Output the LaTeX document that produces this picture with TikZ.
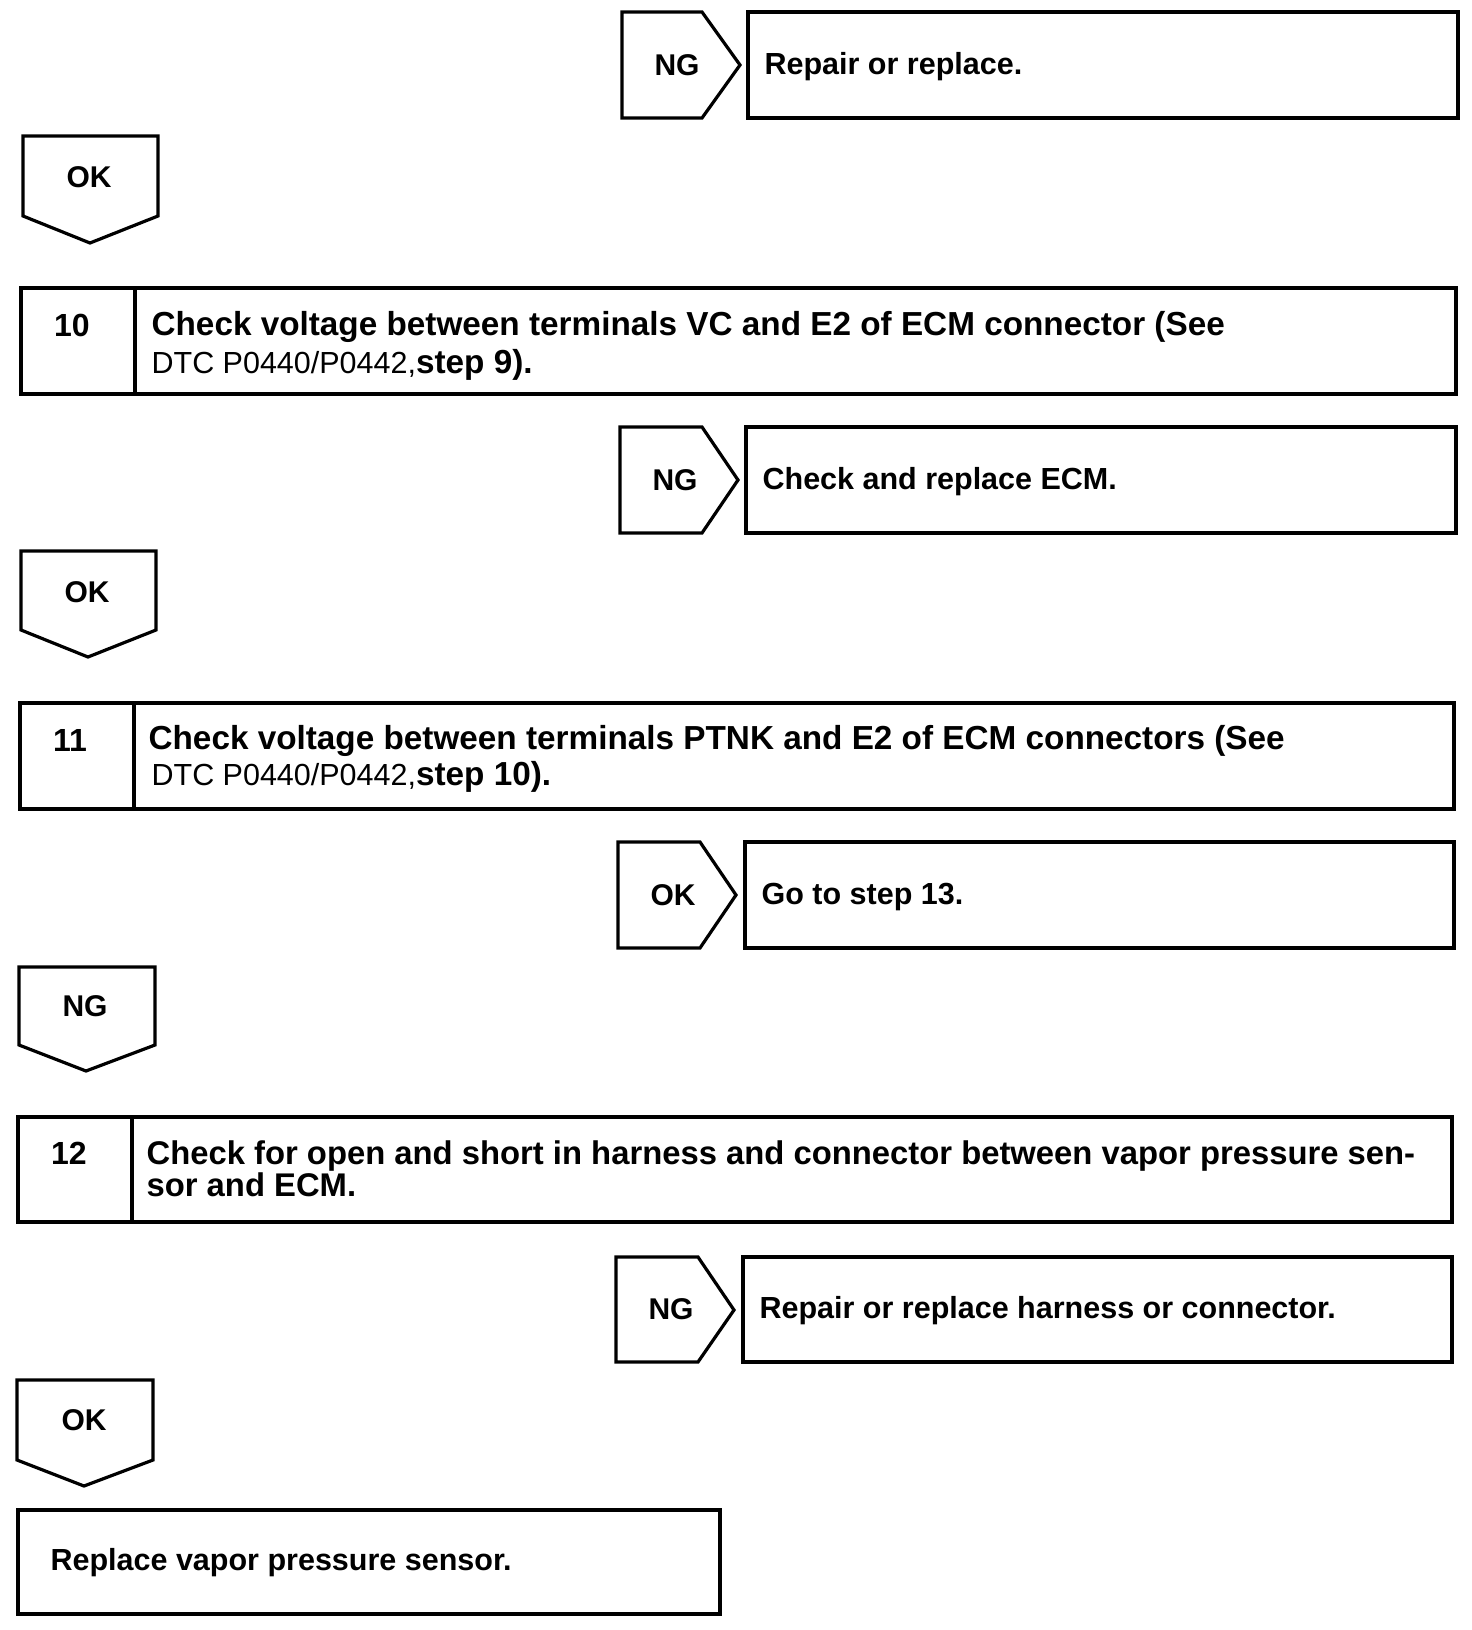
\documentclass[tikz,border=0pt]{standalone}
\usepackage{fontspec}
\setmainfont{Liberation Sans}
\begin{document}
\begin{tikzpicture}[x=1pt,y=-1pt,line width=3.2pt,line join=miter]
\useasboundingbox (0,0) rectangle (1472,1630);
\tikzset{
  lbl/.style={font=\fontsize{30}{34}\selectfont\bfseries,inner sep=0pt},
  num/.style={font=\fontsize{32}{34}\selectfont\bfseries,inner sep=0pt},
  txt/.style={font=\fontsize{30.5}{38}\selectfont\bfseries,inner sep=0pt,anchor=west,align=left},
  stp/.style={font=\fontsize{33.3}{38.5}\selectfont\bfseries,inner sep=0pt,anchor=west,align=left}
}
\newcommand\dtcref{\mdseries\fontsize{30.5}{38}\selectfont DTC P0440/P0442,}
% ---------- row 1: NG -> Repair or replace
\draw (622,12) -- (702,12) -- (740,65) -- (702,118) -- (622,118) -- cycle;
\node[lbl] (ng1) at (677,65) {NG};
\draw (748,12) rectangle (1458,118);
\node[txt] (r1) at (763,67) {Repair or replace.};
% ---------- OK down
\draw (23,136) -- (158,136) -- (158,216) -- (90,243) -- (23,216) -- cycle;
\node[lbl] (ok1) at (89,177) {OK};
% ---------- step 10
\draw (21,288) rectangle (1456,394);
\draw (135,288) -- (135,394);
\node[num] (n10) at (72,325) {10};
\node[stp] (t10) at (150,346) {Check voltage between terminals VC and E2 of ECM connector (See\\{\dtcref}step 9).};
% ---------- NG -> Check and replace ECM
\draw (620,427) -- (702,427) -- (738,480) -- (702,533) -- (620,533) -- cycle;
\node[lbl] (ng2) at (675,480) {NG};
\draw (746,427) rectangle (1456,533);
\node[txt] (r2) at (761,482) {Check and replace ECM.};
% ---------- OK down
\draw (21,551) -- (156,551) -- (156,630) -- (88,657) -- (21,630) -- cycle;
\node[lbl] (ok2) at (87,592) {OK};
% ---------- step 11
\draw (20,703) rectangle (1454,809);
\draw (134,703) -- (134,809);
\node[num] (n11) at (70,740) {11};
\node[stp,font=\fontsize{33.3}{36.5}\selectfont\bfseries] (t11) at (147,759) {Check voltage between terminals PTNK and E2 of ECM connectors (See\\\hspace*{3pt}{\dtcref}step 10).};
% ---------- OK -> Go to step 13
\draw (618,842) -- (700,842) -- (736,895) -- (700,948) -- (618,948) -- cycle;
\node[lbl] (ok3) at (673,895) {OK};
\draw (745,842) rectangle (1454,948);
\node[txt] (r3) at (760,897) {Go to step 13.};
% ---------- NG down
\draw (19,967) -- (155,967) -- (155,1045) -- (86,1071) -- (19,1045) -- cycle;
\node[lbl] (ng3) at (85,1006) {NG};
% ---------- step 12
\draw (18,1117) rectangle (1452,1222);
\draw (132,1117) -- (132,1222);
\node[num] (n12) at (69,1153) {12};
\node[stp,font=\fontsize{32.8}{32}\selectfont\bfseries] (t12) at (145,1169) {Check for open and short in harness and connector between vapor pressure sen-\\sor and ECM.};
% ---------- NG -> Repair or replace harness
\draw (616,1257) -- (698,1257) -- (734,1310) -- (698,1362) -- (616,1362) -- cycle;
\node[lbl] (ng4) at (671,1309) {NG};
\draw (743,1257) rectangle (1452,1362);
\node[txt] (r4) at (758,1311) {Repair or replace harness or connector.};
% ---------- OK down
\draw (17,1380) -- (153,1380) -- (153,1460) -- (84,1486) -- (17,1460) -- cycle;
\node[lbl] (ok4) at (84,1420) {OK};
% ---------- final box
\draw (18,1510) rectangle (720,1614);
\node[txt] (fin) at (49,1563) {Replace vapor pressure sensor.};
\end{tikzpicture}
\end{document}
